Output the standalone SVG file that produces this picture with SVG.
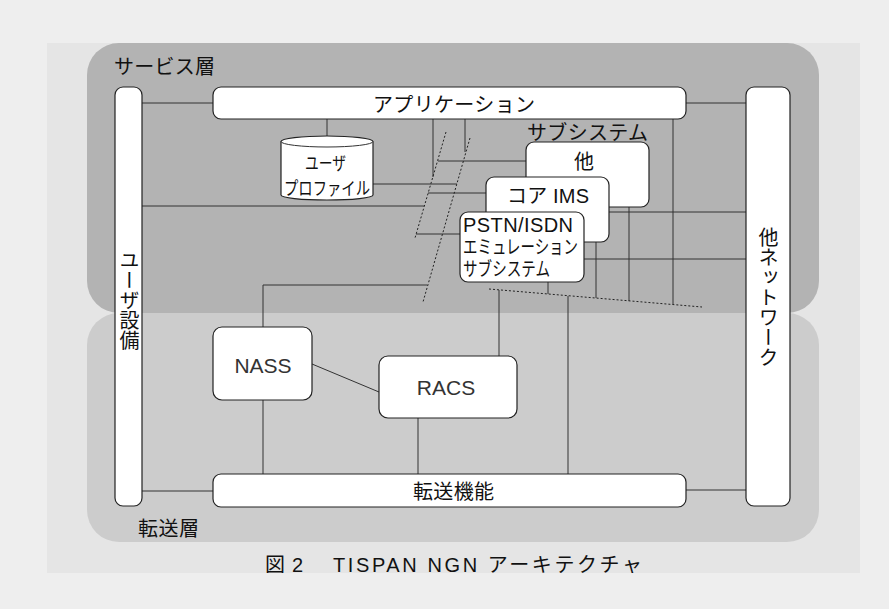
<svg xmlns="http://www.w3.org/2000/svg" width="889" height="609" viewBox="0 0 889 609">
<style>
text{font-family:"Liberation Sans","Noto Sans CJK JP",sans-serif;fill:#111}
.box{fill:#fff;stroke:#222;stroke-width:1.2}
.ln{fill:none;stroke:#333;stroke-width:1}
.dot{fill:none;stroke:#222;stroke-width:1;stroke-dasharray:2,2}
.lbl{font-size:20px}
.vt{font-size:20px;writing-mode:vertical-rl}
.big{font-size:21px;fill:#333;text-anchor:middle}
</style>
<defs>
<clipPath id="panelClip"><rect x="47" y="43" width="813" height="530"/></clipPath>
</defs>
<rect x="0" y="0" width="889" height="609" fill="#eeeeee"/>
<rect x="47" y="43" width="813" height="530" fill="#e5e5e5"/>
<g id="service-layer">
<rect x="87" y="43" width="732" height="270" rx="32" fill="#b3b3b3"/>
<text class="lbl" x="114" y="74" textLength="101">サービス層</text>
</g>
<g id="transport-layer">
<rect x="87" y="313" width="732" height="229" rx="32" fill="#cccccc"/>
<text class="lbl" x="138" y="536" textLength="61">転送層</text>
</g>
<g id="connectors">
<path class="ln" d="M142,103 H213"/>
<path class="ln" d="M686,103 H746"/>
<path class="ln" d="M142,491 H213"/>
<path class="ln" d="M686,490 H746"/>
<path class="ln" d="M327,119 V136"/>
<path class="ln" d="M142,206 H424"/>
<path class="ln" d="M373,184 H457"/>
<path class="ln" d="M433,119 V177"/>
<path class="ln" d="M465,119 V152"/>
<path class="ln" d="M438,161 H526"/>
<path class="ln" d="M428,193 H486"/>
<path class="ln" d="M416,234 H460"/>
<path class="ln" d="M263,327 V285 H427"/>
<path class="ln" d="M673,119 V304"/>
<path class="ln" d="M609,212 H746"/>
<path class="ln" d="M584,259 H746"/>
<path class="ln" d="M548,282 V294"/>
<path class="ln" d="M596,242 V298"/>
<path class="ln" d="M629,207 V301"/>
<path class="ln" d="M499,290 V356"/>
<path class="ln" d="M568,296 V474"/>
<path class="ln" d="M418,418 V474"/>
<path class="ln" d="M263,400 V474"/>
<path class="ln" d="M312,364 L379,392"/>
<path class="dot" d="M446,132 L415,238"/>
<path class="dot" d="M470,138 L423,302"/>
<path class="dot" d="M489,289 L702,307"/>
</g>
<g id="user-equipment">
<rect class="box" x="115" y="87" width="27" height="419" rx="8"/>
<text class="vt" x="128" y="250">ユーザ設備</text>
</g>
<g id="other-network">
<rect class="box" x="746" y="87" width="44" height="419" rx="8"/>
<text class="vt" x="767" y="227">他ネットワーク</text>
</g>
<g id="application">
<rect class="box" x="213" y="87" width="473" height="32" rx="8"/>
<text class="lbl" x="373" y="112" textLength="162">アプリケーション</text>
</g>
<g id="transport-function">
<rect class="box" x="213" y="474" width="473" height="33" rx="8"/>
<text class="lbl" x="413" y="499" textLength="81">転送機能</text>
</g>
<g id="user-profile">
<path class="box" d="M281,141.5 V195 A46,5 0 0 0 373,195 V141.5 A46,5.5 0 0 0 281,141.5 Z"/>
<path class="ln" d="M281,141.5 A46,5.5 0 0 0 373,141.5" stroke="#222" stroke-width="1.2"/>
<text x="305" y="170" font-size="18" textLength="41" lengthAdjust="spacingAndGlyphs">ユーザ</text>
<text x="284" y="195" font-size="18" textLength="86" lengthAdjust="spacingAndGlyphs">プロファイル</text>
</g>
<g id="subsystem-label">
<text class="lbl" x="527" y="140" textLength="121">サブシステム</text>
</g>
<g id="other-subsystem">
<rect class="box" x="526" y="142" width="123" height="65" rx="8"/>
<text x="574" y="169" font-size="20">他</text>
</g>
<g id="core-ims">
<rect class="box" x="486" y="177" width="123" height="65" rx="8"/>
<text x="507" y="203" font-size="20" textLength="82">コア IMS</text>
</g>
<g id="pstn-isdn">
<rect class="box" x="460" y="212" width="124" height="70" rx="8"/>
<text x="463" y="232" font-size="20" textLength="110">PSTN/ISDN</text>
<text x="463" y="254" font-size="19" textLength="115" lengthAdjust="spacingAndGlyphs">エミュレーション</text>
<text x="463" y="276" font-size="19" textLength="87" lengthAdjust="spacingAndGlyphs">サブシステム</text>
</g>
<g id="nass">
<rect class="box" x="213" y="327" width="99" height="73" rx="9"/>
<text class="big" x="263" y="373">NASS</text>
</g>
<g id="racs">
<rect class="box" x="379" y="356" width="138" height="62" rx="9"/>
<text class="big" x="446" y="395">RACS</text>
</g>
<g id="caption" clip-path="url(#panelClip)">
<text x="265" y="572" font-size="20" textLength="38">図 2</text>
<text x="333" y="572" font-size="20" textLength="309">TISPAN NGN アーキテクチャ</text>
</g>
</svg>
